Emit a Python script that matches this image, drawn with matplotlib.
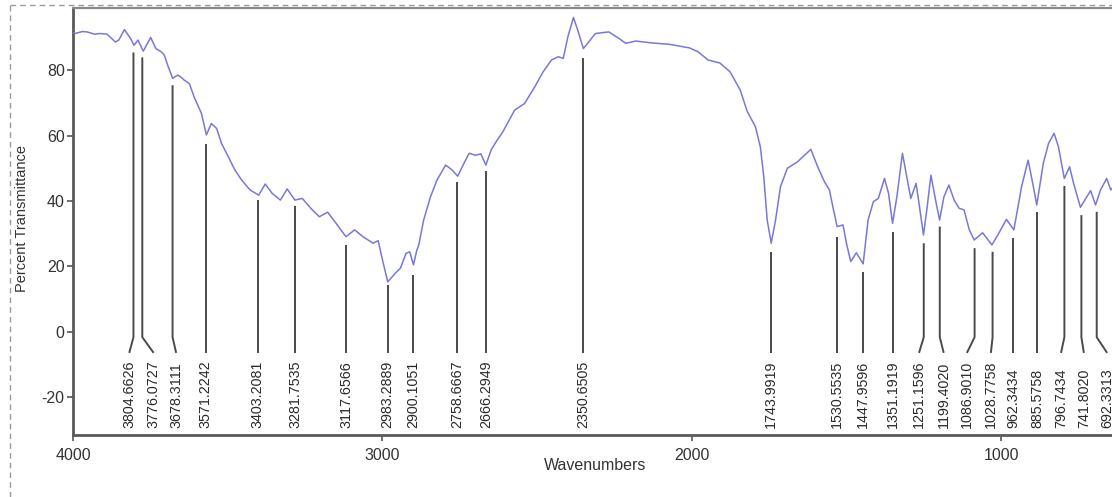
import matplotlib
matplotlib.use("Agg")
import matplotlib.pyplot as plt
from matplotlib.lines import Line2D

plt.rcParams['font.family'] = ['Liberation Sans', 'DejaVu Sans']
plt.rcParams['axes.unicode_minus'] = False

# ---- spectrum (wavenumber, %T) ----
wavenumber = [3998, 3993, 3970, 3955, 3930, 3912, 3890, 3863, 3852, 3834, 3814, 3803,
              3790, 3773, 3749, 3732, 3715, 3705, 3694, 3678, 3662, 3650, 3640, 3624,
              3607, 3585, 3569, 3553, 3536, 3520, 3498, 3477, 3455, 3428, 3400, 3379,
              3357, 3330, 3308, 3283, 3259, 3232, 3204, 3177, 3150, 3118, 3090, 3063,
              3030, 3014, 3000, 2983, 2959, 2942, 2924, 2912, 2900, 2889, 2883, 2867,
              2845, 2824, 2796, 2775, 2757, 2737, 2720, 2700, 2682, 2666, 2649, 2633,
              2611, 2573, 2541, 2508, 2481, 2454, 2432, 2416, 2401, 2383, 2369, 2351,
              2334, 2312, 2269, 2236, 2214, 2182, 2127, 2073, 2008, 1980, 1948, 1910,
              1877, 1844, 1822, 1795, 1779, 1768, 1757, 1744, 1730, 1714, 1692, 1659,
              1616, 1594, 1572, 1556, 1545, 1531, 1512, 1501, 1487, 1469, 1447, 1431,
              1414, 1398, 1378, 1365, 1352, 1338, 1320, 1306, 1293, 1276, 1265, 1252,
              1240, 1228, 1213, 1200, 1186, 1170, 1153, 1137, 1121, 1104, 1088, 1061,
              1031, 1012, 984, 960, 935, 914, 897, 886, 865, 848, 830, 816,
              797, 780, 767, 745, 712, 696, 680, 660, 647, 625, 605]
transmittance = [91.5, 91.2, 91.8, 91.7, 91.0, 91.2, 91.0, 88.6, 89.2, 92.4, 89.7, 87.6,
                 89.2, 85.8, 90.0, 86.6, 85.6, 84.6, 81.5, 77.5, 78.5, 77.8, 76.9, 75.9,
                 71.4, 66.8, 60.2, 63.7, 62.2, 57.6, 53.5, 49.5, 46.4, 43.4, 41.8, 45.2,
                 42.4, 40.3, 43.7, 40.3, 40.8, 37.8, 35.2, 36.6, 33.2, 29.1, 31.2, 29.1,
                 27.1, 27.9, 22.0, 15.3, 17.9, 19.5, 24.0, 24.5, 20.5, 25.0, 26.5, 34.2,
                 41.3, 46.4, 51.0, 49.5, 47.6, 51.5, 54.6, 54.0, 54.4, 51.0, 55.6, 58.1,
                 61.2, 67.8, 69.8, 74.9, 79.5, 83.1, 84.1, 83.6, 90.2, 96.1, 92.2, 86.6,
                 88.6, 91.2, 91.7, 89.7, 88.2, 88.9, 88.3, 87.9, 86.8, 85.6, 83.1, 82.2,
                 79.5, 73.9, 67.5, 62.7, 56.5, 47.4, 34.2, 27.1, 34.2, 44.4, 50.0, 52.0,
                 55.8, 50.5, 45.9, 43.4, 38.3, 32.2, 32.7, 27.1, 21.5, 24.2, 20.8, 34.2,
                 39.8, 40.8, 46.9, 42.4, 33.2, 41.3, 54.6, 47.4, 40.8, 45.4, 38.3, 29.6,
                 38.3, 47.9, 40.3, 34.2, 41.3, 44.9, 40.3, 37.8, 37.3, 31.2, 28.1, 30.3,
                 26.6, 29.6, 34.4, 31.2, 44.4, 52.5, 44.4, 38.8, 51.5, 57.6, 60.7, 56.6,
                 46.9, 50.5, 45.4, 38.1, 43.2, 38.8, 43.4, 46.9, 43.4, 45.9, 45.9]

# ---- peak annotations ----
peak_labels = ["3804.6626", "3776.0727", "3678.3111", "3571.2242", "3403.2081", "3281.7535",
               "3117.6566", "2983.2889", "2900.1051", "2758.6667", "2666.2949", "2350.6505",
               "1743.9919", "1530.5535", "1447.9596", "1351.1919", "1251.1596", "1199.4020",
               "1086.9010", "1028.7758", "962.3434", "885.5758", "796.7434", "741.8020",
               "692.3313"]
peak_positions = [3804.6626, 3776.0727, 3678.3111, 3571.2242, 3403.2081, 3281.7535,
                  3117.6566, 2983.2889, 2900.1051, 2758.6667, 2666.2949, 2350.6505,
                  1743.9919, 1530.5535, 1447.9596, 1351.1919, 1251.1596, 1199.4020,
                  1086.9010, 1028.7758, 962.3434, 885.5758, 796.7434, 741.8020,
                  692.3313]
peak_line_tops = [85.4, 83.9, 75.4, 57.4, 40.3, 38.5, 26.6, 14.4, 17.4, 45.9, 49.3, 83.6,
                  24.5, 29.1, 18.4, 30.6, 27.1, 32.2, 25.6, 24.5, 28.6, 36.7, 44.6, 35.7,
                  36.7]
label_positions = [3818.2, 3739.5, 3666.7, 3571.2, 3403.2, 3281.8, 3117.7, 2983.3, 2900.1,
                   2758.7, 2666.3, 2350.7, 1744.0, 1530.6, 1448.0, 1351.2, 1266.4, 1186.7,
                   1111.7, 1034.3, 962.3, 885.6, 807.6, 733.9, 658.8]

x_ticks = [4000, 3000, 2000, 1000]
y_ticks = [-20, 0, 20, 40, 60, 80]

W, H = 1112, 497
fig = plt.figure(figsize=(W / 100, H / 100), dpi=100)
ax = fig.add_axes([73 / W, 1 - 435 / H, 1 - 73 / W + 0.01, (435 - 8) / H])
ax.set_xlim(4000, 607)
ax.set_ylim(-31.5, 99)

ax.plot(wavenumber, transmittance, color='#7878d8', lw=1.1, zorder=3)

line_color = '#4a4a4a'
for pos, top, lab_x, lab in zip(peak_positions, peak_line_tops, label_positions, peak_labels):
    if abs(lab_x - pos) > 1:
        xs = [pos, pos, lab_x]
        ys = [top, -1.6, -6.4]
    else:
        xs = [pos, pos]
        ys = [top, -6.4]
    ax.plot(xs, ys, color=line_color, lw=1.4, zorder=2, solid_capstyle='butt')
    ax.text(lab_x, -29.4, lab, rotation=90, ha='center', va='bottom',
            fontsize=10.3, color='#2a2a2a', zorder=4)

ax.set_xticks(x_ticks)
ax.set_yticks(y_ticks)
ax.tick_params(axis='both', direction='out', length=4, width=1.2, color='#555555',
               labelcolor='#333333', labelsize=11.5)
ax.tick_params(axis='x', pad=5)
ax.tick_params(axis='y', pad=2)

for side in ['left', 'bottom']:
    ax.spines[side].set_color('#5a5a5a')
    ax.spines[side].set_linewidth(2.0)
ax.spines['top'].set_color('#8a8a8a')
ax.spines['top'].set_linewidth(1.6)
ax.spines['right'].set_visible(False)

fig.text(595 / W, 1 - 465 / H, 'Wavenumbers', ha='center', va='center',
         fontsize=11.5, color='#333333')
fig.text(22 / W, 1 - 218 / H, 'Percent Transmittance', rotation=90, ha='center',
         va='center', fontsize=10.5, color='#333333')

# dashed frame around the figure
fig.add_artist(Line2D([10 / W, 10 / W], [0, 1 - 5 / H], transform=fig.transFigure,
                      color='#9a9a9a', lw=1.0, ls=(0, (4, 3))))
fig.add_artist(Line2D([10 / W, 1], [1 - 5 / H, 1 - 5 / H], transform=fig.transFigure,
                      color='#9a9a9a', lw=1.0, ls=(0, (4, 3))))

fig.savefig('out.png', dpi=100, facecolor='white')
